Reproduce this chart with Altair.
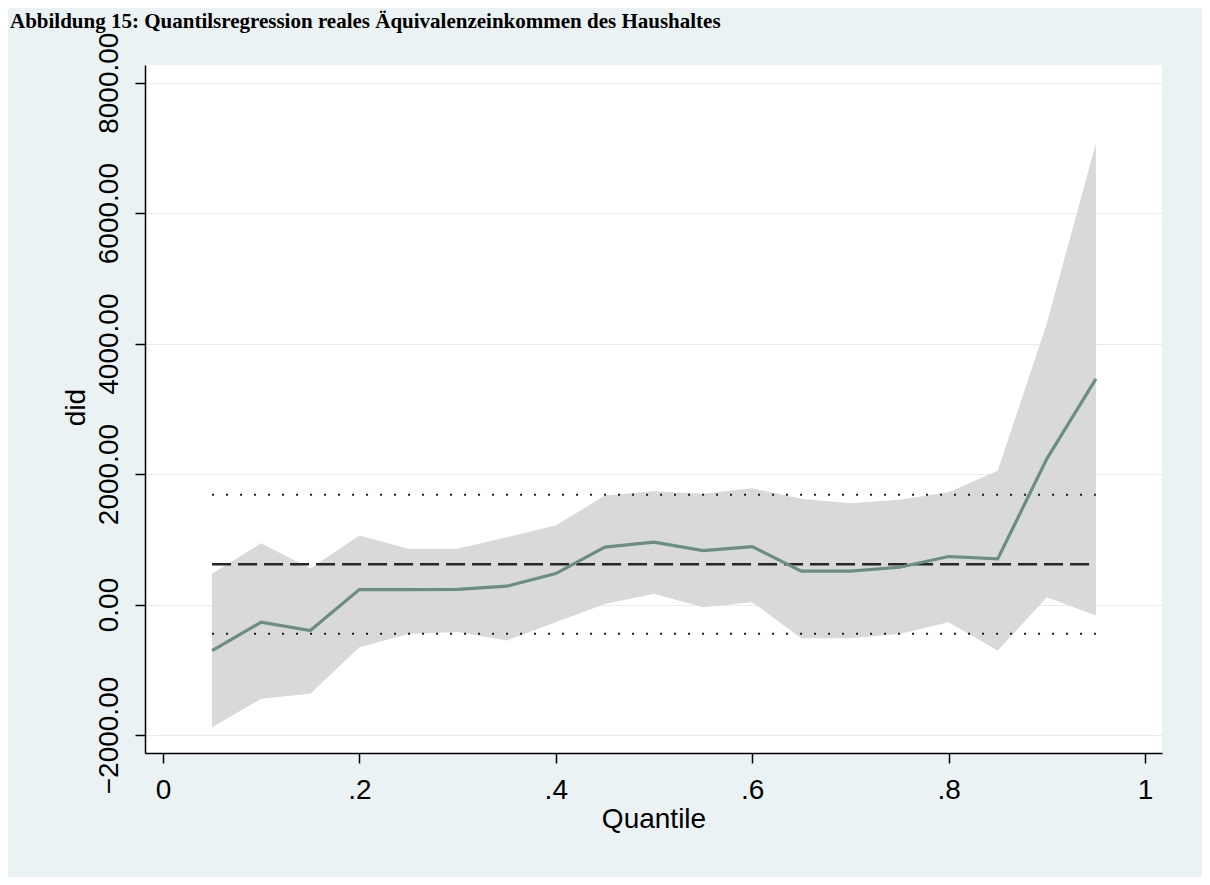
import altair as alt
import pandas as pd

# Quantiles and estimates
quantiles = [0.05, 0.10, 0.15, 0.20, 0.25, 0.30, 0.35, 0.40, 0.45, 0.50,
             0.55, 0.60, 0.65, 0.70, 0.75, 0.80, 0.85, 0.90, 0.95]
coef = [-705, -271, -399, 230, 230, 232, 281, 475, 880, 955,
        828, 889, 511, 511, 572, 736, 700, 2233, 3460]
ci_upper = [470, 940, 552, 1058, 854, 854, 1032, 1211, 1671, 1737,
            1697, 1783, 1620, 1553, 1605, 1722, 2050, 4310, 7070]
ci_lower = [-1881, -1446, -1368, -654, -450, -420, -552, -271, 10, 164,
            -41, 36, -516, -516, -450, -271, -705, 112, -169]

# OLS reference lines (coefficient and its confidence bounds)
ols_coef = 617
ols_lower = -449
ols_upper = 1682

x_ticks = [0, 0.2, 0.4, 0.6, 0.8, 1]
y_ticks = [-2000, 0, 2000, 4000, 6000, 8000]

df = pd.DataFrame({"q": quantiles, "coef": coef, "lo": ci_lower, "hi": ci_upper})
ols_ci = pd.DataFrame({"x": [quantiles[0]] * 2, "x2": [quantiles[-1]] * 2,
                       "y": [ols_lower, ols_upper]})
ols_df = pd.DataFrame({"x": [quantiles[0]], "x2": [quantiles[-1]], "y": [ols_coef]})

xscale = alt.Scale(domain=[-0.0183, 1.0173], nice=False, zero=False)
yscale = alt.Scale(domain=[-2276, 8271], nice=False, zero=False)

x_axis = alt.Axis(
    values=x_ticks, title="Quantile", grid=False,
    labelExpr="datum.value == 0 ? '0' : datum.value == 1 ? '1' : replace(format(datum.value, '.1f'), '0.', '.')",
    labelBaseline="top", labelPadding=13, labelFlush=False,
    titleBaseline="alphabetic", titleY=74,
)
y_axis = alt.Axis(
    values=y_ticks, format=".2f", title="did", grid=True,
    gridColor="#E4EDF0", gridWidth=1.2,
    labelAngle=270, labelAlign="center", labelBaseline="alphabetic",
    labelPadding=18, labelFlush=False,
    titleAngle=270, titleAlign="center", titleBaseline="alphabetic",
    titleX=-61, titleY=342,
)

band = alt.Chart(df).mark_area(color="#D9D9D9", opacity=1).encode(
    x=alt.X("q:Q", scale=xscale, axis=x_axis),
    y=alt.Y("lo:Q", scale=yscale, axis=y_axis),
    y2="hi:Q",
)

dotted = alt.Chart(ols_ci).mark_rule(color="#1a1a1a", strokeWidth=2, strokeDash=[2, 12]).encode(
    x=alt.X("x:Q", scale=xscale), x2="x2:Q", y=alt.Y("y:Q", scale=yscale)
)

dashed = alt.Chart(ols_df).mark_rule(color="#262626", strokeWidth=2.5, strokeDash=[19, 7]).encode(
    x=alt.X("x:Q", scale=xscale), x2="x2:Q", y=alt.Y("y:Q", scale=yscale)
)

line = alt.Chart(df).mark_line(color="#6A8F7E", strokeWidth=3.2).encode(
    x=alt.X("q:Q", scale=xscale), y=alt.Y("coef:Q", scale=yscale)
)

chart = alt.layer(band, dotted, dashed, line).properties(
    width=1017, height=688,
    title=alt.TitleParams(
        "Abbildung 15: Quantilsregression reales Äquivalenzeinkommen des Haushaltes",
        anchor="start", frame="group", font="Liberation Serif", fontSize=21,
        fontWeight="bold", color="#000000", baseline="alphabetic", offset=0,
        dx=-135, dy=17,
    ),
    autosize=alt.AutoSizeParams(type="none"),
    padding={"left": 137, "top": 57, "right": 40, "bottom": 124},
    background="#EAF2F3",
).configure_view(
    fill="#FFFFFF", stroke=None
).configure_axis(
    domainColor="#000000", domainWidth=1.5, tickColor="#000000", tickWidth=1.5,
    tickSize=10, labelFont="Liberation Sans", labelFontSize=28, labelColor="#000000",
    titleFont="Liberation Sans", titleFontSize=28, titleColor="#000000",
    titleFontWeight="normal",
)

chart.save("out.html", embed_options={"renderer": "svg", "actions": False})
